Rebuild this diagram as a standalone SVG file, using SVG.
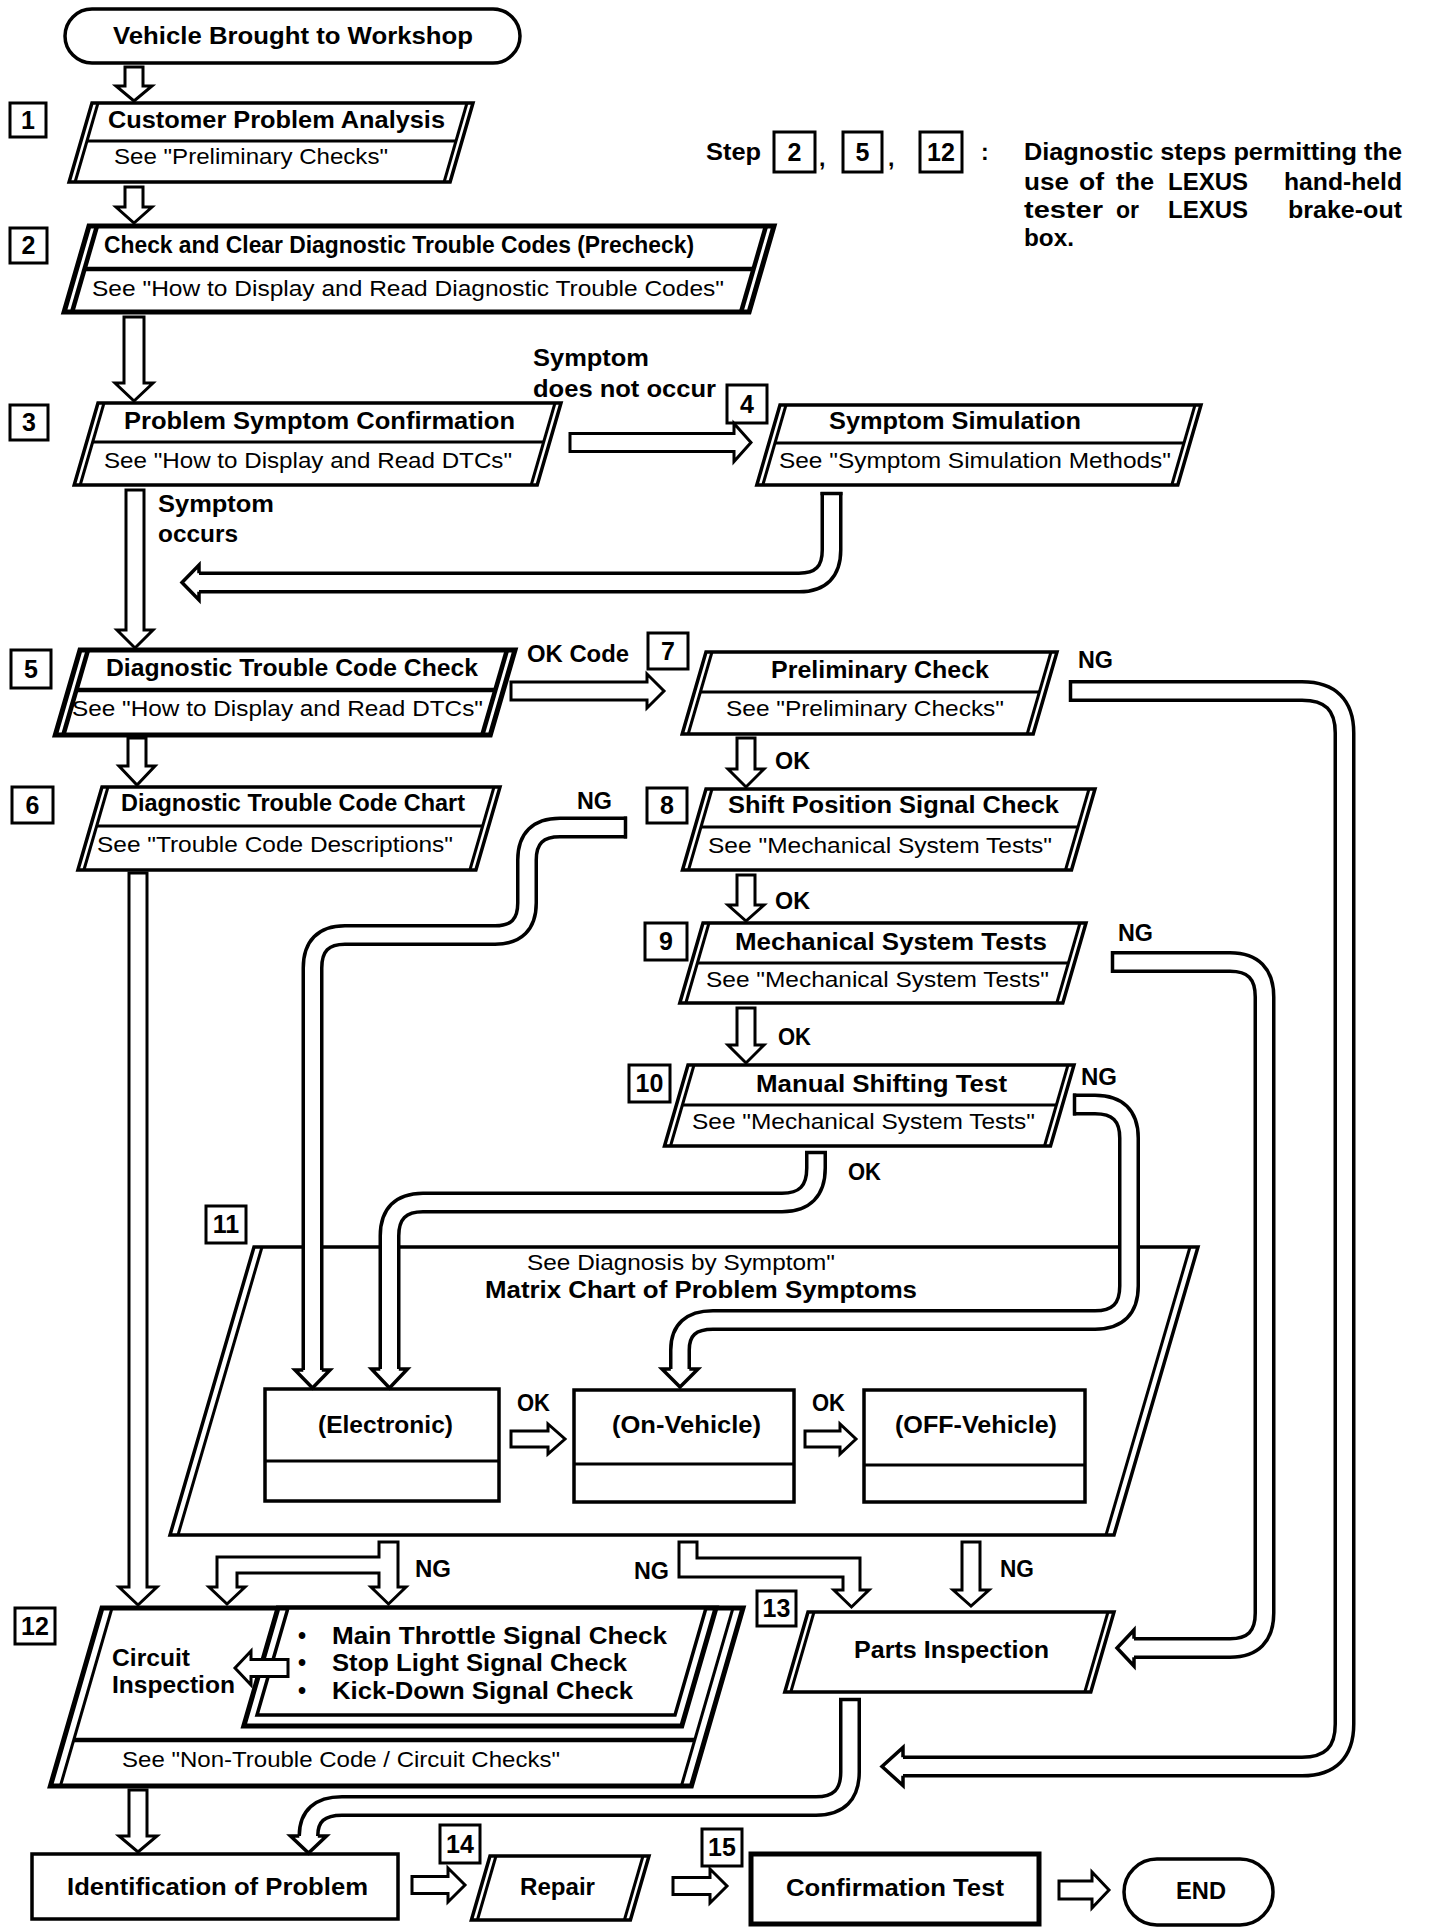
<svg xmlns="http://www.w3.org/2000/svg" width="1456" height="1932" viewBox="0 0 1456 1932">
<style>
.b{fill:#fff;stroke:#000;stroke-width:3.5;stroke-linejoin:miter}
.bb{fill:#fff;stroke:#000;stroke-width:5;stroke-linejoin:miter}
.ln{stroke:#000;stroke-width:3;fill:none}
.lnb{stroke:#000;stroke-width:4.5;fill:none}
.nb{fill:#fff;stroke:#000;stroke-width:3}
.ar{fill:#fff;stroke:#000;stroke-width:3;stroke-linejoin:miter}
.ck{fill:none;stroke:#000;stroke-width:22}
.cw{fill:none;stroke:#fff;stroke-width:15}
.hd{fill:#fff;stroke:none}
.hl{fill:none;stroke:#000;stroke-width:3.5;stroke-linejoin:miter}
.cap{stroke:#000;stroke-width:3.5}
text{font-family:"Liberation Sans",Arial,Helvetica,sans-serif;fill:#000}
.h{font-size:23px;font-weight:bold}
.s{font-size:22px}
.n{font-size:25px;font-weight:bold;text-anchor:middle}
</style>
<rect x="0" y="0" width="1456" height="1932" fill="#fff"/>

<g id="nodes">
<g id="start">
<rect x="65" y="9" width="455" height="54" rx="27" class="b"/>
<text x="113" y="44" class="h" textLength="360" lengthAdjust="spacingAndGlyphs">Vehicle Brought to Workshop</text>
</g>

<g id="step1">
<rect x="10" y="103" width="36" height="34" class="nb"/><text x="28" y="129" class="n">1</text>
<polygon points="92,103 473,103 450.1,182 69.1,182" class="b"/>
<line x1="98" y1="103" x2="75.1" y2="182" class="ln"/><line x1="467" y1="103" x2="444.1" y2="182" class="ln"/>
<line x1="87" y1="141" x2="456" y2="141" class="ln"/>
<text x="108" y="128" class="h" textLength="337" lengthAdjust="spacingAndGlyphs">Customer Problem Analysis</text>
<text x="114" y="164" class="s" textLength="274" lengthAdjust="spacingAndGlyphs">See "Preliminary Checks"</text>
</g>

<g id="step2">
<rect x="10" y="228" width="37" height="35" class="nb"/><text x="28.5" y="254" class="n">2</text>
<polygon points="89,226 774,226 749.1,312 64.1,312" class="bb"/>
<line x1="97" y1="226" x2="72.1" y2="312" class="lnb"/><line x1="766" y1="226" x2="741.1" y2="312" class="lnb"/>
<line x1="84.5" y1="269" x2="753.5" y2="269" class="lnb"/>
<text x="104" y="253" class="h" textLength="590" lengthAdjust="spacingAndGlyphs">Check and Clear Diagnostic Trouble Codes (Precheck)</text>
<text x="92" y="296" class="s" textLength="632" lengthAdjust="spacingAndGlyphs">See "How to Display and Read Diagnostic Trouble Codes"</text>
</g>

<g id="step3">
<rect x="10" y="405" width="38" height="35" class="nb"/><text x="29" y="431" class="n">3</text>
<polygon points="98,403 561,403 537.2,485 74.2,485" class="b"/>
<line x1="104" y1="403" x2="80.2" y2="485" class="ln"/><line x1="555" y1="403" x2="531.2" y2="485" class="ln"/>
<line x1="92.7" y1="442" x2="543.7" y2="442" class="ln"/>
<text x="124" y="429" class="h" textLength="391" lengthAdjust="spacingAndGlyphs">Problem Symptom Confirmation</text>
<text x="104" y="468" class="s" textLength="408" lengthAdjust="spacingAndGlyphs">See "How to Display and Read DTCs"</text>
</g>

<g id="step4">
<rect x="727" y="385" width="40" height="38" class="nb"/><text x="747" y="413" class="n">4</text>
<polygon points="780,405 1201,405 1177.8,485 756.8,485" class="b"/>
<line x1="786" y1="405" x2="762.8" y2="485" class="ln"/><line x1="1195" y1="405" x2="1171.8" y2="485" class="ln"/>
<line x1="775" y1="443" x2="1184" y2="443" class="ln"/>
<text x="829" y="429" class="h" textLength="252" lengthAdjust="spacingAndGlyphs">Symptom Simulation</text>
<text x="779" y="468" class="s" textLength="392" lengthAdjust="spacingAndGlyphs">See "Symptom Simulation Methods"</text>
</g>

<g id="step5">
<rect x="11" y="650" width="40" height="38" class="nb"/><text x="31" y="678" class="n">5</text>
<polygon points="80,650 515,650 490.3,735 55.3,735" class="bb"/>
<line x1="88" y1="650" x2="63.3" y2="735" class="lnb"/><line x1="507" y1="650" x2="482.3" y2="735" class="lnb"/>
<line x1="76.4" y1="690" x2="495.4" y2="690" class="lnb"/>
<text x="106" y="676" class="h" textLength="372" lengthAdjust="spacingAndGlyphs">Diagnostic Trouble Code Check</text>
<text x="72" y="716" class="s" textLength="411" lengthAdjust="spacingAndGlyphs">See "How to Display and Read DTCs"</text>
</g>

<g id="step6">
<rect x="12" y="787" width="41" height="36" class="nb"/><text x="32.5" y="814" class="n">6</text>
<polygon points="102,787 500,787 475.9,870 77.9,870" class="b"/>
<line x1="108" y1="787" x2="83.9" y2="870" class="ln"/><line x1="494" y1="787" x2="469.9" y2="870" class="ln"/>
<line x1="96.7" y1="826" x2="482.7" y2="826" class="ln"/>
<text x="121" y="811" class="h" textLength="344" lengthAdjust="spacingAndGlyphs">Diagnostic Trouble Code Chart</text>
<text x="97" y="852" class="s" textLength="356" lengthAdjust="spacingAndGlyphs">See "Trouble Code Descriptions"</text>
</g>

<g id="step7">
<rect x="648" y="633" width="40" height="36" class="nb"/><text x="668" y="660" class="n">7</text>
<polygon points="706,652 1057,652 1033.2,734 682.2,734" class="b"/>
<line x1="712" y1="652" x2="688.2" y2="734" class="ln"/><line x1="1051" y1="652" x2="1027.2" y2="734" class="ln"/>
<line x1="700.4" y1="692" x2="1039.4" y2="692" class="ln"/>
<text x="771" y="678" class="h" textLength="218" lengthAdjust="spacingAndGlyphs">Preliminary Check</text>
<text x="726" y="716" class="s" textLength="278" lengthAdjust="spacingAndGlyphs">See "Preliminary Checks"</text>
</g>

<g id="step8">
<rect x="647" y="788" width="40" height="35" class="nb"/><text x="667" y="814" class="n">8</text>
<polygon points="706,789 1095,789 1071.5,870 682.5,870" class="b"/>
<line x1="712" y1="789" x2="688.5" y2="870" class="ln"/><line x1="1089" y1="789" x2="1065.5" y2="870" class="ln"/>
<line x1="701" y1="827" x2="1078" y2="827" class="ln"/>
<text x="728" y="813" class="h" textLength="331" lengthAdjust="spacingAndGlyphs">Shift Position Signal Check</text>
<text x="708" y="853" class="s" textLength="344" lengthAdjust="spacingAndGlyphs">See "Mechanical System Tests"</text>
</g>

<g id="step9">
<rect x="645" y="923" width="42" height="37" class="nb"/><text x="666" y="950" class="n">9</text>
<polygon points="703,923 1086,923 1062.8,1003 679.8,1003" class="b"/>
<line x1="709" y1="923" x2="685.8" y2="1003" class="ln"/><line x1="1080" y1="923" x2="1056.8" y2="1003" class="ln"/>
<line x1="697.4" y1="963" x2="1068.4" y2="963" class="ln"/>
<text x="735" y="950" class="h" textLength="312" lengthAdjust="spacingAndGlyphs">Mechanical System Tests</text>
<text x="706" y="987" class="s" textLength="343" lengthAdjust="spacingAndGlyphs">See "Mechanical System Tests"</text>
</g>

<g id="step10">
<rect x="629" y="1065" width="41" height="37" class="nb"/><text x="649.5" y="1092" class="n">10</text>
<polygon points="688,1065 1074,1065 1050.5,1146 664.5,1146" class="b"/>
<line x1="694" y1="1065" x2="670.5" y2="1146" class="ln"/><line x1="1068" y1="1065" x2="1044.5" y2="1146" class="ln"/>
<line x1="682.4" y1="1105" x2="1056.4" y2="1105" class="ln"/>
<text x="756" y="1092" class="h" textLength="251" lengthAdjust="spacingAndGlyphs">Manual Shifting Test</text>
<text x="692" y="1129" class="s" textLength="343" lengthAdjust="spacingAndGlyphs">See "Mechanical System Tests"</text>
</g>

<g id="step11">
<rect x="206" y="1206" width="40" height="37" class="nb"/><text x="226" y="1233" class="n">11</text>
<polygon points="254,1247 1198,1247 1114,1535 170,1535" class="b"/>
<line x1="262" y1="1247" x2="178" y2="1535" class="ln"/><line x1="1190" y1="1247" x2="1106" y2="1535" class="ln"/>
<text x="527" y="1270" class="s" textLength="308" lengthAdjust="spacingAndGlyphs">See Diagnosis by Symptom"</text>
<text x="485" y="1298" class="h" textLength="432" lengthAdjust="spacingAndGlyphs">Matrix Chart of Problem Symptoms</text>
</g>

<g id="electronic">
<rect x="265" y="1389" width="234" height="112" class="b"/>
<line x1="265" y1="1461" x2="499" y2="1461" class="ln"/>
<text x="318" y="1433" class="h" textLength="135" lengthAdjust="spacingAndGlyphs">(Electronic)</text>
</g>
<g id="on-vehicle">
<rect x="574" y="1390" width="220" height="112" class="b"/>
<line x1="574" y1="1464" x2="794" y2="1464" class="ln"/>
<text x="612" y="1433" class="h" textLength="149" lengthAdjust="spacingAndGlyphs">(On-Vehicle)</text>
</g>
<g id="off-vehicle">
<rect x="864" y="1390" width="221" height="112" class="b"/>
<line x1="864" y1="1465" x2="1085" y2="1465" class="ln"/>
<text x="895" y="1433" class="h" textLength="162" lengthAdjust="spacingAndGlyphs">(OFF-Vehicle)</text>
</g>

<g id="step12">
<rect x="15" y="1608" width="40" height="36" class="nb"/><text x="35" y="1635" class="n">12</text>
<polygon points="102,1608 743,1608 691.4,1786 50.4,1786" class="bb"/>
<line x1="112" y1="1608" x2="60.4" y2="1786" class="ln"/><line x1="733" y1="1608" x2="681.4" y2="1786" class="ln"/>
<line x1="73.7" y1="1740" x2="694.7" y2="1740" class="lnb"/>
<polygon points="278,1608 716,1608 681.8,1726 243.8,1726" class="bb"/>
<polygon points="288,1608 706,1608 675,1715 257,1715" class="b"/>
<text x="112" y="1666" class="h" textLength="78" lengthAdjust="spacingAndGlyphs">Circuit</text>
<text x="112" y="1693" class="h" textLength="123" lengthAdjust="spacingAndGlyphs">Inspection</text>
<text x="298" y="1644" class="h">•</text>
<text x="298" y="1671" class="h">•</text>
<text x="298" y="1699" class="h">•</text>
<text x="332" y="1644" class="h" textLength="335" lengthAdjust="spacingAndGlyphs">Main Throttle Signal Check</text>
<text x="332" y="1671" class="h" textLength="295" lengthAdjust="spacingAndGlyphs">Stop Light Signal Check</text>
<text x="332" y="1699" class="h" textLength="301" lengthAdjust="spacingAndGlyphs">Kick-Down Signal Check</text>
<text x="122" y="1767" class="s" textLength="438" lengthAdjust="spacingAndGlyphs">See "Non-Trouble Code / Circuit Checks"</text>
</g>

<g id="step13">
<rect x="757" y="1591" width="39" height="35" class="nb"/><text x="776.5" y="1617" class="n">13</text>
<polygon points="808,1612 1114,1612 1090.8,1692 784.8,1692" class="b"/>
<line x1="814" y1="1612" x2="790.8" y2="1692" class="ln"/><line x1="1108" y1="1612" x2="1084.8" y2="1692" class="ln"/>
<text x="854" y="1658" class="h" textLength="195" lengthAdjust="spacingAndGlyphs">Parts Inspection</text>
</g>

<g id="identification">
<rect x="32" y="1854" width="366" height="65" class="b"/>
<text x="67" y="1895" class="h" textLength="301" lengthAdjust="spacingAndGlyphs">Identification of Problem</text>
</g>

<g id="step14">
<rect x="440" y="1825" width="40" height="38" class="nb"/><text x="460" y="1853" class="n">14</text>
<polygon points="490,1856 649,1856 630.4,1920 471.4,1920" class="b"/>
<line x1="496" y1="1856" x2="477.4" y2="1920" class="ln"/><line x1="643" y1="1856" x2="624.4" y2="1920" class="ln"/>
<text x="520" y="1895" class="h" textLength="75" lengthAdjust="spacingAndGlyphs">Repair</text>
</g>

<g id="step15">
<rect x="702" y="1829" width="40" height="37" class="nb"/><text x="722" y="1856" class="n">15</text>
<rect x="751" y="1854" width="288" height="70" class="bb"/>
<text x="786" y="1896" class="h" textLength="218" lengthAdjust="spacingAndGlyphs">Confirmation Test</text>
</g>

<g id="end">
<rect x="1124" y="1859" width="149" height="66" rx="33" class="b"/>
<text x="1176" y="1899" class="h" textLength="50" lengthAdjust="spacingAndGlyphs">END</text>
</g>

<g id="legend">
<text x="706" y="160" class="h" textLength="55" lengthAdjust="spacingAndGlyphs">Step</text>
<rect x="774" y="132" width="41" height="40" class="nb"/><text x="794.5" y="161" class="n">2</text>
<text x="819" y="166" class="h">,</text>
<rect x="843" y="132" width="39" height="40" class="nb"/><text x="862.5" y="161" class="n">5</text>
<text x="888" y="166" class="h">,</text>
<rect x="920" y="132" width="42" height="40" class="nb"/><text x="941" y="161" class="n">12</text>
<text x="981" y="160" class="h">:</text>
<text x="1024" y="160" class="h" textLength="378" lengthAdjust="spacingAndGlyphs">Diagnostic steps permitting the</text>
<text x="1024" y="190" class="h" textLength="45" lengthAdjust="spacingAndGlyphs">use</text>
<text x="1079" y="190" class="h" textLength="25" lengthAdjust="spacingAndGlyphs">of</text>
<text x="1116" y="190" class="h" textLength="38" lengthAdjust="spacingAndGlyphs">the</text>
<text x="1168" y="190" class="h" textLength="80" lengthAdjust="spacingAndGlyphs">LEXUS</text>
<text x="1284" y="190" class="h" textLength="118" lengthAdjust="spacingAndGlyphs">hand-held</text>
<text x="1024" y="218" class="h" textLength="79" lengthAdjust="spacingAndGlyphs">tester</text>
<text x="1116" y="218" class="h" textLength="23" lengthAdjust="spacingAndGlyphs">or</text>
<text x="1168" y="218" class="h" textLength="80" lengthAdjust="spacingAndGlyphs">LEXUS</text>
<text x="1288" y="218" class="h" textLength="114" lengthAdjust="spacingAndGlyphs">brake-out</text>
<text x="1024" y="246" class="h" textLength="50" lengthAdjust="spacingAndGlyphs">box.</text>
</g>
</g>

<g id="connectors">
<polygon class="ar" points="125,67 143,67 143,86 152,86 134,101 116,86 125,86"/>
<polygon class="ar" points="125,187 143,187 143,207 152,207 134,223 116,207 125,207"/>
<polygon class="ar" points="124,317 144,317 144,383 153,383 134,401 115,383 124,383"/>
<polygon class="ar" points="570,433.5 734,433.5 734,423.5 751,442.5 734,461.5 734,451.5 570,451.5"/>
<polygon class="ar" points="126,490 144,490 144,630 153,630 135,648 117,630 126,630"/>
<polygon class="ar" points="511,682 647,682 647,674 664,691 647,708 647,700 511,700"/>
<polygon class="ar" points="128,738 146,738 146,766 155,766 137,785 119,766 128,766"/>
<polygon class="ar" points="129,873 147,873 147,1587 157,1587 138,1605 119,1587 129,1587"/>
<polygon class="ar" points="737,738 755,738 755,769 764,769 746,787 728,769 737,769"/>
<polygon class="ar" points="737,875 755,875 755,905 764,905 746,921 728,905 737,905"/>
<polygon class="ar" points="737,1008 755,1008 755,1045 764,1045 746,1063 728,1045 737,1045"/>
<polygon class="ar" points="511,1431 548,1431 548,1424 565,1439 548,1454 548,1447 511,1447"/>
<polygon class="ar" points="805,1431 840,1431 840,1424 856,1439 840,1454 840,1447 805,1447"/>
<polygon class="ar" points="962,1542 980,1542 980,1590 989,1590 971,1606 953,1590 962,1590"/>
<polygon class="ar" points="379,1542 398,1542 398,1587 406,1587 388.5,1604 371,1587 379,1587 379,1573 237,1573 237,1587 245,1587 227,1604 209,1587 217,1587 217,1557 379,1557"/>
<polygon class="ar" points="679,1542 697,1542 697,1558 860,1558 860,1590 869,1590 851.5,1607 834,1590 843,1590 843,1577 679,1577"/>
<polygon class="ar" points="288,1659.5 251,1659.5 251,1651 235,1668 251,1685 251,1676.5 288,1676.5"/>
<polygon class="ar" points="129,1790 147,1790 147,1836 157,1836 138,1852 119,1836 129,1836"/>
<polygon class="ar" points="412,1876.5 448,1876.5 448,1868 465,1885 448,1902 448,1893.5 412,1893.5"/>
<polygon class="ar" points="673,1877.5 710,1877.5 710,1869 727,1886 710,1903 710,1894.5 673,1894.5"/>
<polygon class="ar" points="1059,1881 1092,1881 1092,1872 1109,1890 1092,1908 1092,1899 1059,1899"/>

<path class="ck" d="M831.5 492 V550 Q831.5 582.5 799 582.5 H199"/>
<path class="cw" d="M831.5 492 V550 Q831.5 582.5 799 582.5 H199"/>
<line class="cap" x1="820.5" y1="493.5" x2="842.5" y2="493.5"/>
<polygon class="hd" points="199,565 182,582.5 199,600"/>
<polyline class="hl" points="199,573.3 199,565 182,582.5 199,600 199,591.7"/>

<path class="ck" d="M1069 691 H1302 Q1344.5 691 1344.5 733 V1724 Q1344.5 1766.5 1302 1766.5 H903"/>
<path class="cw" d="M1069 691 H1302 Q1344.5 691 1344.5 733 V1724 Q1344.5 1766.5 1302 1766.5 H903"/>
<line class="cap" x1="1070.5" y1="680" x2="1070.5" y2="702"/>
<polygon class="hd" points="903,1747.5 882,1766.5 903,1785.5"/>
<polyline class="hl" points="903,1757.3 903,1747.5 882,1766.5 903,1785.5 903,1775.8"/>

<path class="ck" d="M627 827.5 H560 Q527 827.5 527 860 V903 Q527 935 495 935 H345 Q312.5 935 312.5 968 V1370"/>
<path class="cw" d="M627 827.5 H560 Q527 827.5 527 860 V903 Q527 935 495 935 H345 Q312.5 935 312.5 968 V1370"/>
<line class="cap" x1="625.5" y1="816.5" x2="625.5" y2="838.5"/>
<polygon class="hd" points="295,1370 312.5,1388 330,1370"/>
<polyline class="hl" points="303.3,1370 295,1370 312.5,1388 330,1370 321.8,1370"/>

<path class="ck" d="M1111 962 H1230 Q1264.5 962 1264.5 997 V1613 Q1264.5 1648 1230 1648 H1134"/>
<path class="cw" d="M1111 962 H1230 Q1264.5 962 1264.5 997 V1613 Q1264.5 1648 1230 1648 H1134"/>
<line class="cap" x1="1112.5" y1="951" x2="1112.5" y2="973"/>
<polygon class="hd" points="1134,1630 1117,1648 1134,1666"/>
<polyline class="hl" points="1134,1638.8 1134,1630 1117,1648 1134,1666 1134,1657.3"/>

<path class="ck" d="M1073 1104.5 H1095 Q1129 1104.5 1129 1138 V1286 Q1129 1320 1095 1320 H713 Q680 1320 680 1350 V1369"/>
<path class="cw" d="M1073 1104.5 H1095 Q1129 1104.5 1129 1138 V1286 Q1129 1320 1095 1320 H713 Q680 1320 680 1350 V1369"/>
<line class="cap" x1="1074.5" y1="1093.5" x2="1074.5" y2="1115.5"/>
<polygon class="hd" points="662,1369 680,1387 698,1369"/>
<polyline class="hl" points="670.8,1369 662,1369 680,1387 698,1369 689.3,1369"/>

<path class="ck" d="M816 1151 V1168 Q816 1202.5 782 1202.5 H423 Q389.5 1202.5 389.5 1236 V1369"/>
<path class="cw" d="M816 1151 V1168 Q816 1202.5 782 1202.5 H423 Q389.5 1202.5 389.5 1236 V1369"/>
<line class="cap" x1="805" y1="1152.5" x2="827" y2="1152.5"/>
<polygon class="hd" points="371.5,1369 389.5,1388 407.5,1369"/>
<polyline class="hl" points="380.3,1369 371.5,1369 389.5,1388 407.5,1369 398.8,1369"/>

<path class="ck" d="M850 1698 V1772 Q850 1806 816 1806 H342 Q308.5 1806 308.5 1836"/>
<path class="cw" d="M850 1698 V1772 Q850 1806 816 1806 H342 Q308.5 1806 308.5 1836"/>
<line class="cap" x1="839" y1="1699.5" x2="861" y2="1699.5"/>
<polygon class="hd" points="290.5,1836 308.5,1853 326.5,1836"/>
<polyline class="hl" points="299.3,1836 290.5,1836 308.5,1853 326.5,1836 317.8,1836"/>

<g id="connector-labels">
<text x="533" y="366" class="h" textLength="116" lengthAdjust="spacingAndGlyphs">Symptom</text>
<text x="533" y="397" class="h" textLength="183" lengthAdjust="spacingAndGlyphs">does not occur</text>
<text x="158" y="512" class="h" textLength="116" lengthAdjust="spacingAndGlyphs">Symptom</text>
<text x="158" y="542" class="h" textLength="80" lengthAdjust="spacingAndGlyphs">occurs</text>
<text x="527" y="662" class="h" textLength="102" lengthAdjust="spacingAndGlyphs">OK Code</text>
<text x="1078" y="668" class="h" textLength="35" lengthAdjust="spacingAndGlyphs">NG</text>
<text x="775" y="769" class="h" textLength="35" lengthAdjust="spacingAndGlyphs">OK</text>
<text x="577" y="809" class="h" textLength="35" lengthAdjust="spacingAndGlyphs">NG</text>
<text x="775" y="909" class="h" textLength="35" lengthAdjust="spacingAndGlyphs">OK</text>
<text x="1118" y="941" class="h" textLength="35" lengthAdjust="spacingAndGlyphs">NG</text>
<text x="778" y="1045" class="h" textLength="33" lengthAdjust="spacingAndGlyphs">OK</text>
<text x="1081" y="1085" class="h" textLength="36" lengthAdjust="spacingAndGlyphs">NG</text>
<text x="848" y="1180" class="h" textLength="33" lengthAdjust="spacingAndGlyphs">OK</text>
<text x="517" y="1411" class="h" textLength="33" lengthAdjust="spacingAndGlyphs">OK</text>
<text x="812" y="1411" class="h" textLength="33" lengthAdjust="spacingAndGlyphs">OK</text>
<text x="415" y="1577" class="h" textLength="36" lengthAdjust="spacingAndGlyphs">NG</text>
<text x="634" y="1579" class="h" textLength="35" lengthAdjust="spacingAndGlyphs">NG</text>
<text x="1000" y="1577" class="h" textLength="34" lengthAdjust="spacingAndGlyphs">NG</text>
</g>
</g>
</svg>
